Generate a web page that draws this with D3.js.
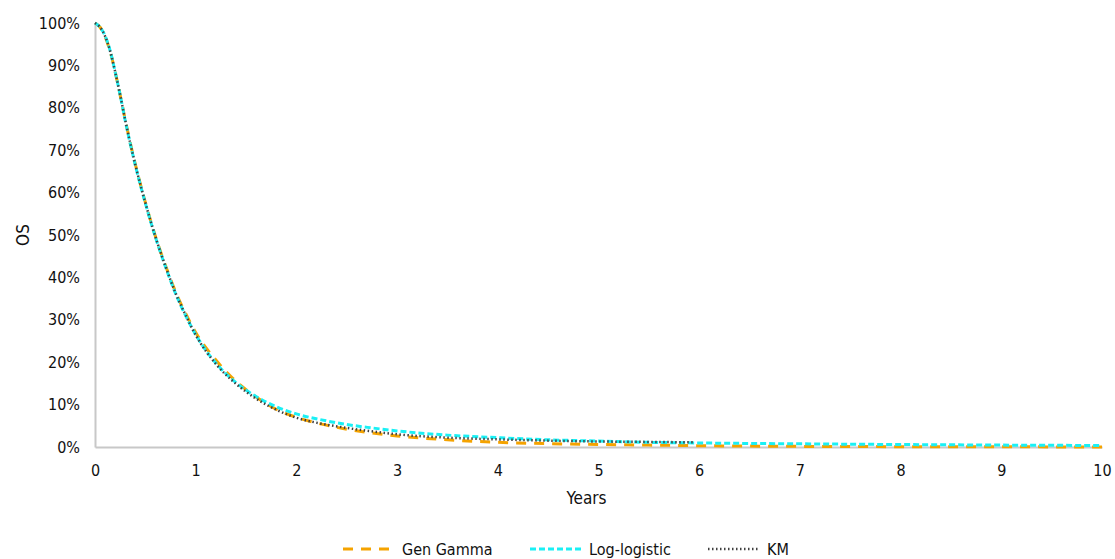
<!DOCTYPE html>
<html>
<head>
<meta charset="utf-8">
<script src="https://cdn.jsdelivr.net/npm/d3@7"></script>
<style>
  body { margin: 0; background: #fff; }
  svg { display: block; font-family: "DejaVu Sans Condensed", "DejaVu Sans", sans-serif; }
  .line { fill: none; }
</style>
</head>
<body>
<div id="chart"></div>
<script>
// time grid (years) for the fitted curves
var years = [0,0.05,0.1,0.15,0.2,0.25,0.3,0.4,0.5,0.6,0.7,0.8,0.9,1.0,1.2,1.4,1.6,1.8,2.0,2.25,2.5,2.75,3,3.5,4,4.5,5,5.5,6,7,8,9,10];

var genGamma = [1.0,0.99,0.968,0.933,0.885,0.83,0.772,0.667,0.577,0.497,0.428,0.366,0.315,0.27,0.205,0.155,0.118,0.089,0.070,0.054,0.042,0.033,0.026,0.017,0.011,0.008,0.006,0.0045,0.003,0.0015,0.0008,0.0004,0.0002];

var logLogistic = [1.0,0.99,0.97,0.935,0.885,0.83,0.77,0.665,0.575,0.495,0.425,0.362,0.31,0.265,0.198,0.152,0.119,0.095,0.078,0.064,0.053,0.045,0.038,0.028,0.022,0.017,0.014,0.011,0.0095,0.0075,0.0058,0.0045,0.0035];

var kmYears = [0,0.05,0.1,0.15,0.2,0.25,0.3,0.4,0.5,0.6,0.7,0.8,0.9,1.0,1.2,1.4,1.6,1.8,2.0,2.25,2.5,2.75,3,3.5,4,4.5,5,5.5,5.95];
var km = [1.0,0.99,0.969,0.934,0.885,0.83,0.771,0.666,0.576,0.496,0.426,0.363,0.311,0.264,0.196,0.149,0.114,0.088,0.069,0.055,0.045,0.037,0.030,0.022,0.018,0.015,0.013,0.012,0.011];

var xTicks = [0,1,2,3,4,5,6,7,8,9,10];
var yTicks = [0,0.1,0.2,0.3,0.4,0.5,0.6,0.7,0.8,0.9,1.0];

var series = [
  {name: 'Gen Gamma', x: years, y: genGamma, color: '#F5A300', width: 3, dash: '10,8'},
  {name: 'Log-logistic', x: years, y: logLogistic, color: '#1AF0F5', width: 3, dash: '6,3'},
  {name: 'KM', x: kmYears, y: km, color: '#404040', width: 2.5, dash: '1.5,2.5'}
];

var W = 1115, H = 559;
var margin = {top: 23, right: 13, bottom: 112, left: 95},
    width = W - margin.left - margin.right,
    height = H - margin.top - margin.bottom;

var x = d3.scaleLinear().domain([0, 10]).range([0, width]);
var y = d3.scaleLinear().domain([0, 1]).range([height, 0]);

var svg = d3.select('#chart').append('svg')
    .attr('width', W)
    .attr('height', H);

var g = svg.append('g')
    .attr('transform', 'translate(' + margin.left + ',' + margin.top + ')');

// axes
var xAxis = g.append('g')
    .attr('transform', 'translate(0,' + height + ')')
    .call(d3.axisBottom(x).tickValues(xTicks).tickSize(0).tickPadding(18).tickFormat(d3.format('d')));
var yAxis = g.append('g')
    .call(d3.axisLeft(y).tickValues(yTicks).tickSize(0).tickPadding(15).tickFormat(d3.format('.0%')));

[xAxis, yAxis].forEach(function(a) {
  a.select('.domain').attr('stroke', '#c8c8c8').attr('stroke-width', 2);
  a.selectAll('text').attr('fill', '#111').style('font-size', '16px')
    .style('font-family', '"DejaVu Sans Condensed", "DejaVu Sans", sans-serif');
});

// curves
series.forEach(function(s) {
  var pts = s.x.map(function(t, i) { return [t, s.y[i]]; });
  var line = d3.line()
    .x(function(d) { return x(d[0]); })
    .y(function(d) { return y(d[1]); })
    .curve(d3.curveMonotoneX);
  g.append('path')
    .datum(pts)
    .attr('class', 'line')
    .attr('d', line)
    .style('stroke', s.color)
    .style('stroke-width', s.width)
    .style('stroke-dasharray', s.dash);
});

// axis titles
svg.append('text')
  .attr('x', margin.left + width / 2 - 12)
  .attr('y', 504)
  .attr('text-anchor', 'middle')
  .style('font-size', '17px')
  .attr('fill', '#111')
  .text('Years');

svg.append('text')
  .attr('transform', 'translate(29,235) rotate(-90)')
  .attr('text-anchor', 'middle')
  .style('font-size', '17px')
  .attr('fill', '#111')
  .text('OS');

// legend
var legendX = [343, 530, 708];
series.forEach(function(s, i) {
  var lg = svg.append('g').attr('transform', 'translate(' + legendX[i] + ',549)');
  lg.append('line')
    .attr('x1', 0).attr('x2', 52).attr('y1', 0).attr('y2', 0)
    .style('stroke', s.color)
    .style('stroke-width', s.width)
    .style('stroke-dasharray', s.dash);
  lg.append('text')
    .attr('x', 59)
    .attr('y', 6)
    .style('font-size', '16px')
    .attr('fill', '#111')
    .text(s.name);
});
</script>
</body>
</html>
